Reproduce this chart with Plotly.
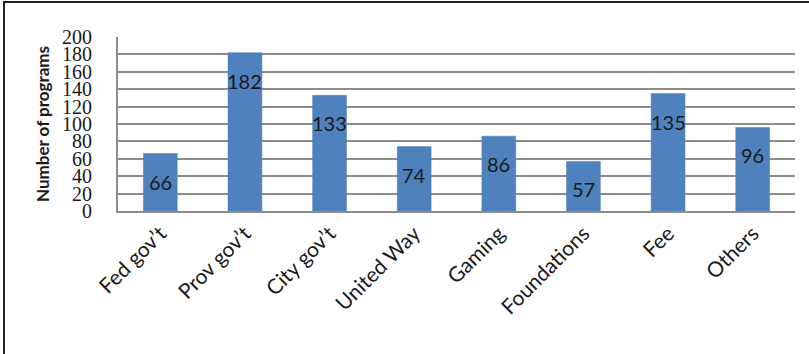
import plotly.graph_objects as go

categories = ["Fed gov’t", "Prov gov’t", "City gov’t", "United Way", "Gaming", "Foundations", "Fee", "Others"]
values = [66, 182, 133, 74, 86, 57, 135, 96]
y_ticks = [0, 20, 40, 60, 80, 100, 120, 140, 160, 180, 200]

fig = go.Figure()
fig.add_trace(go.Bar(
    x=categories, y=values,
    marker=dict(color="#4F81BD", line=dict(color="#4A7EBB", width=0.5)),
    width=0.4,
    hoverinfo="skip",
))

for c, v in zip(categories, values):
    fig.add_annotation(x=c, y=v, text=str(v), showarrow=False, yshift=-28,
                       font=dict(family="Lato, Open Sans, sans-serif", size=20, color="#1a1a1a"))

fig.update_layout(
    width=809, height=354,
    margin=dict(l=118, r=14, t=37, b=143),
    paper_bgcolor="white", plot_bgcolor="white",
    showlegend=False,
    bargap=0.6,
    xaxis=dict(
        type="category",
        tickangle=-45,
        tickfont=dict(family="Lato, Open Sans, sans-serif", size=21, color="#1a1a1a"),
        showline=True, linecolor="#8c8c8c", linewidth=2,
        showgrid=False, ticks="",
    ),
    yaxis=dict(
        range=[0, 200],
        tickvals=y_ticks,
        tickfont=dict(family="Liberation Serif, serif", size=20, color="#1a1a1a"),
        ticklabelstandoff=20,
        showline=True, linecolor="#8c8c8c", linewidth=2,
        showgrid=True, gridcolor="#8c8c8c", gridwidth=2,
        zeroline=False, ticks="", ticklen=0,
        title=dict(text="<b>Number of programs</b>",
                   font=dict(family="Lato, Open Sans, sans-serif", size=17, color="#1a1a1a"),
                   standoff=8),
    ),
    shapes=[
        dict(type="line", xref="paper", yref="paper",
             x0=-115/677, x1=(809-118)/677, y0=(174+35)/174, y1=(174+35)/174,
             line=dict(color="#222", width=2)),
        dict(type="line", xref="paper", yref="paper",
             x0=-114/677, x1=-114/677, y0=(174+36)/174, y1=-143/174,
             line=dict(color="#222", width=2)),
    ],
)

fig.write_html("out.html")
